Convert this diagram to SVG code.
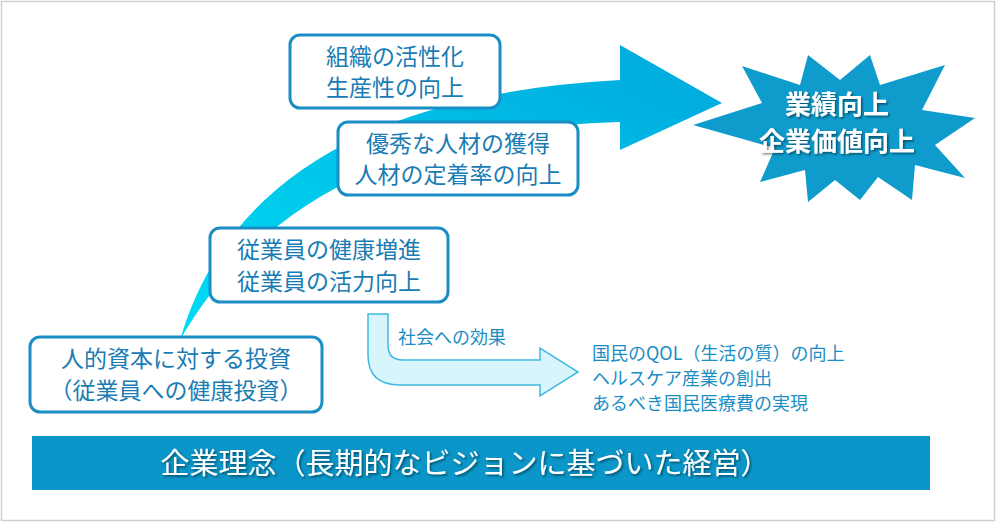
<svg xmlns="http://www.w3.org/2000/svg" width="1000" height="530" viewBox="0 0 1000 530">
<defs>
<linearGradient id="g" x1="0" y1="1" x2="1" y2="0"><stop offset="0" stop-color="#00dcf4"/><stop offset="1" stop-color="#00a8dc"/></linearGradient>
<filter id="sh"><feDropShadow dx="1.5" dy="1.5" stdDeviation="1" flood-color="#000" flood-opacity="0.5"/></filter>
<style>
.box{fill:#fff;stroke:#1a8ec4;stroke-width:3}
.bt{font-family:"Noto Sans CJK JP",sans-serif;font-size:23px;fill:#1a7cb4;text-anchor:middle}
.wt{font-family:"Noto Sans CJK JP",sans-serif;fill:#fff;text-anchor:middle;filter:url(#sh)}
.st{font-family:"Noto Sans CJK JP",sans-serif;font-size:18px;fill:#1a8ec4}
</style>
</defs>
<rect x="1.5" y="1.5" width="993" height="519" fill="#fff" stroke="#d0d0d0" stroke-width="1.5"/>
<g id="connectors">
<path d="M180,340 Q250,100 620,80 L620,45 L722,103 L620,150 L620,122 Q300,130 180,340 Z" fill="url(#g)"/>
<path d="M368,314 L388,314 L388,345 Q388,360 403,360 L540,360 L540,348 L578,372 L540,396 L540,385 L400,385 Q368,385 368,355 Z" fill="#d8f4fc" stroke="#40b8e0" stroke-width="1.5"/>
</g>
<g id="star">
<polygon points="693,125 762,103 742,66 800,85 808,55 840,80 870,55 880,85 945,65 922,110 975,118 935,145 965,178 915,165 912,200 878,177 860,200 835,180 808,202 805,170 760,182 775,148" fill="#0f9ccd"/>
<text class="wt" x="837" y="114" font-size="26" font-weight="bold">業績向上</text>
<text class="wt" x="837" y="151" font-size="26" font-weight="bold">企業価値向上</text>
</g>
<g id="n1"><rect class="box" x="290" y="35" width="210" height="73" rx="10"/><text class="bt" x="395" y="65">組織の活性化</text><text class="bt" x="395" y="96">生産性の向上</text></g>
<g id="n2"><rect class="box" x="338" y="122" width="240" height="73" rx="10"/><text class="bt" x="458" y="152">優秀な人材の獲得</text><text class="bt" x="458" y="183">人材の定着率の向上</text></g>
<g id="n3"><rect class="box" x="210" y="228" width="238" height="74" rx="10"/><text class="bt" x="329" y="258">従業員の健康増進</text><text class="bt" x="329" y="290">従業員の活力向上</text></g>
<g id="n4"><rect class="box" x="30" y="337" width="292" height="75" rx="10"/><text class="bt" x="176" y="367">人的資本に対する投資</text><text class="bt" x="176" y="399">（従業員への健康投資）</text></g>
<text class="st" x="398" y="344" font-size="17">社会への効果</text>
<g id="effects">
<text class="st" x="592" y="360">国民のQOL（生活の質）の向上</text>
<text class="st" x="592" y="385">ヘルスケア産業の創出</text>
<text class="st" x="592" y="410">あるべき国民医療費の実現</text>
</g>
<g id="banner"><rect x="32" y="436" width="898" height="54" fill="#0a96c8"/><text class="wt" x="465" y="474" font-size="29">企業理念（長期的なビジョンに基づいた経営）</text></g>
</svg>
